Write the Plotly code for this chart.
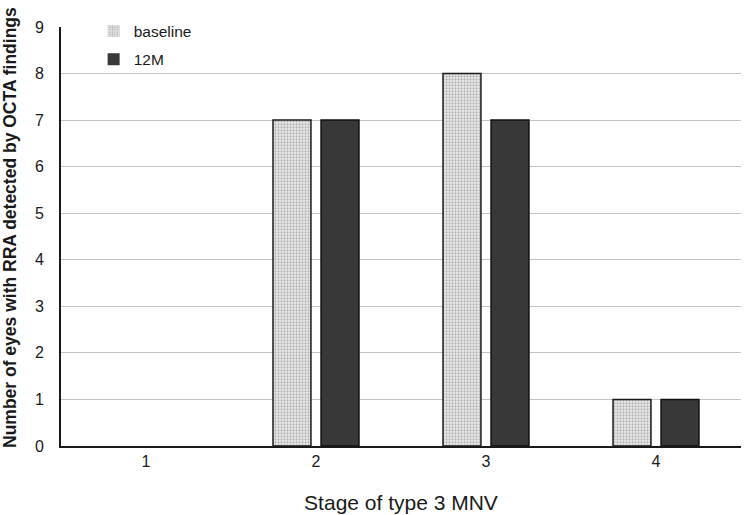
import plotly.graph_objects as go

stages = ["1", "2", "3", "4"]
baseline = [0, 7, 8, 1]
m12 = [0, 7, 7, 1]

def edge_widths(vals):
    return [1.5 if v > 0 else 0 for v in vals]

fig = go.Figure()
fig.add_trace(go.Bar(
    x=stages, y=baseline, name="baseline", legendgroup="a",
    marker=dict(color="#e6e6e6", line=dict(color="#1a1a1a", width=edge_widths(baseline)),
                pattern=dict(shape=".", fgcolor="#777777", bgcolor="#eeeeee", size=3, solidity=0.45)),
))
fig.add_trace(go.Bar(
    x=stages, y=m12, name="12M", legendgroup="b",
    marker=dict(color="#383838", line=dict(color="#111111", width=edge_widths(m12))),
))

fig.update_layout(
    width=744, height=515,
    margin=dict(l=61, r=3, t=27, b=69),
    paper_bgcolor="white", plot_bgcolor="white",
    barmode="group", bargap=0.435, bargroupgap=0.21,
    font=dict(family="Liberation Sans, Arial, sans-serif", color="#1a1a1a"),
    legend=dict(x=0.048, y=1.03, xanchor="left", yanchor="top",
                bgcolor="rgba(0,0,0,0)", font=dict(size=15.5), tracegroupgap=5,
                itemwidth=30, traceorder="grouped"),
    showlegend=True,
)
tick_font = dict(size=16, family="Liberation Sans Narrow, Arial Narrow, Liberation Sans, sans-serif")
fig.update_xaxes(
    showline=True, linecolor="#1a1a1a", linewidth=1.8, showgrid=False,
    ticks="", tickfont=tick_font,
    title=dict(text="Stage of type 3 MNV", font=dict(size=21), standoff=26),
)
fig.update_yaxes(
    range=[0, 9], dtick=1, showline=True, linecolor="#1a1a1a", linewidth=1.8,
    showgrid=True, gridcolor="#c4c4c4", gridwidth=1, zeroline=False,
    ticks="", tickfont=tick_font, ticklabelstandoff=12,
)
fig.add_annotation(
    text="<b>Number of eyes with RRA detected by OCTA findings</b>",
    xref="paper", yref="paper", x=(10 - 61) / 680, y=(446 - 228) / 419,
    xanchor="center", yanchor="middle", textangle=-90, showarrow=False,
    font=dict(size=17.5, color="#1a1a1a"),
)
fig.write_html("out.html")
